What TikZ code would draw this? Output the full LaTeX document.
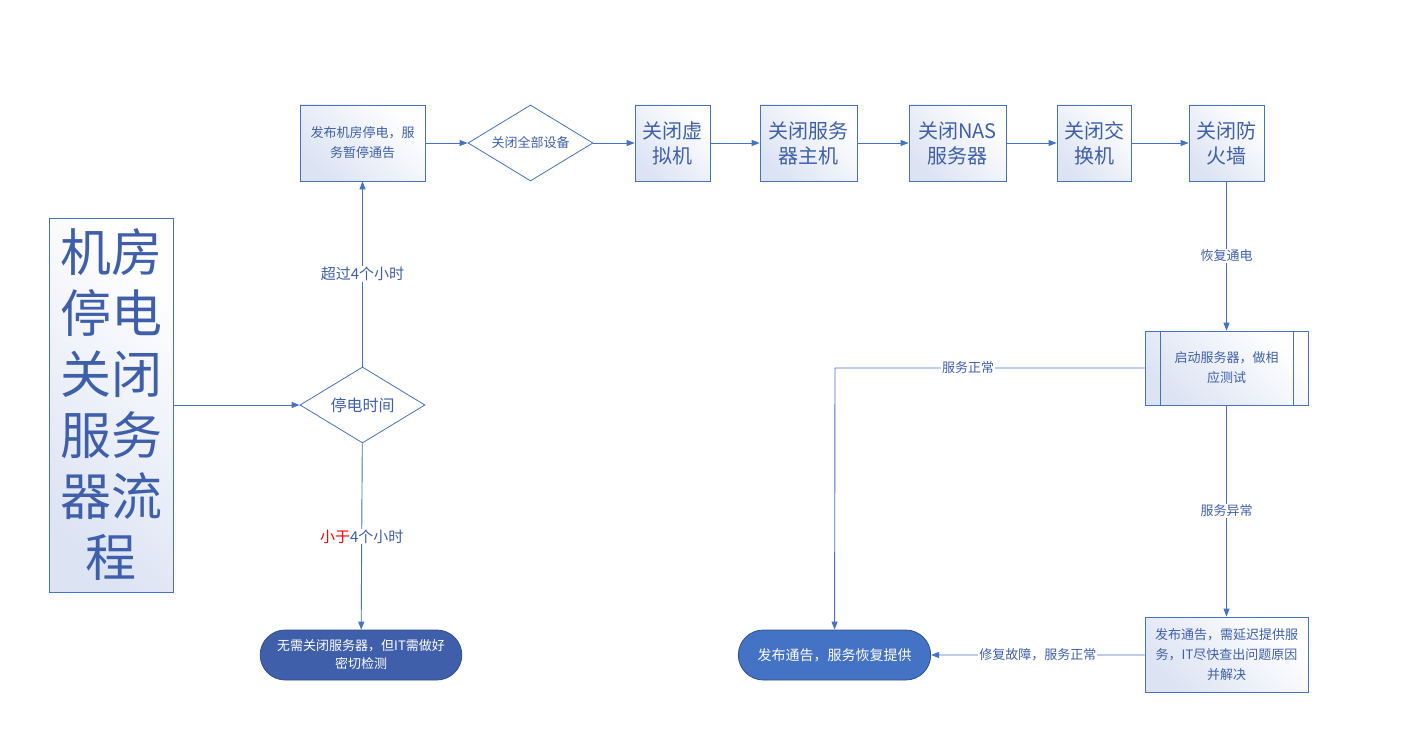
\documentclass[tikz,border=0pt]{standalone}
\usepackage{fontspec}
\setmainfont{Noto Sans CJK SC}
\usetikzlibrary{shapes.geometric,shapes.misc,arrows.meta}
\definecolor{ln}{HTML}{4472C4}
\definecolor{tx}{HTML}{3F5FAA}
\definecolor{lb}{HTML}{DCE3F3}
\begin{document}
\begin{tikzpicture}[x=1pt,y=-1pt,
  every node/.style={text=tx},
  box/.style={draw=ln,line width=0.8pt,top color=white,bottom color=lb,shading angle=-45,inner sep=2pt,align=center},
  dia/.style={diamond,draw=ln,line width=0.8pt,fill=white,aspect=1.65,inner sep=1pt,align=center},
  term/.style={rounded rectangle,draw=ln!70!black,line width=0.8pt,text=white,align=center,font=\fontsize{13}{18}\selectfont},
  arr/.style={draw=ln,line width=0.9pt,-{Triangle[length=8pt,width=6pt]}},
  lab/.style={fill=white,inner sep=1pt,font=\fontsize{13}{15}\selectfont}]
\useasboundingbox (0,0) rectangle (1405,751);
\node[box,minimum width=124pt,minimum height=374pt,text width=115pt,font=\fontsize{51}{61}\selectfont] (title) at (111,405) {机房\\停电\\关闭\\服务\\器流\\程};
\node[box,minimum width=125pt,minimum height=76pt,text width=118pt,font=\fontsize{13}{20}\selectfont] (b1) at (362.5,143) {发布机房停电，服\\务暂停通告};
\node[dia,minimum width=125pt,minimum height=76pt,font=\fontsize{13}{15}\selectfont] (d1) at (530.5,143) {关闭全部设备};
\node[box,minimum width=75pt,minimum height=76pt,text width=70pt,font=\fontsize{20}{25}\selectfont] (v) at (672.5,143) {关闭虚\\拟机};
\node[box,minimum width=97pt,minimum height=76pt,text width=92pt,font=\fontsize{20}{25}\selectfont] (s) at (808.5,143) {关闭服务\\器主机};
\node[box,minimum width=97pt,minimum height=76pt,text width=92pt,font=\fontsize{20}{25}\selectfont] (n) at (957.5,143) {关闭NAS\\服务器};
\node[box,minimum width=74pt,minimum height=76pt,text width=70pt,font=\fontsize{20}{25}\selectfont] (w) at (1094,143) {关闭交\\换机};
\node[box,minimum width=75pt,minimum height=76pt,text width=70pt,font=\fontsize{20}{25}\selectfont] (f) at (1226.5,143) {关闭防\\火墙};
\node[dia,minimum width=125pt,minimum height=76pt,font=\fontsize{16}{18}\selectfont] (d2) at (362.5,405) {停电时间};
\node[term,fill=tx,minimum width=200pt,minimum height=50pt,text width=185pt] (t1) at (361,655) {无需关闭服务器，但IT需做好\\密切检测};
\node[box,minimum width=163pt,minimum height=74pt,text width=120pt,font=\fontsize{13}{20}\selectfont] (p) at (1226.5,368) {启动服务器，做相\\应测试};
\draw[ln,line width=0.8pt] (1160,331)--(1160,405) (1293,331)--(1293,405);
\node[box,minimum width=163pt,minimum height=75pt,text width=158pt,font=\fontsize{13}{20}\selectfont] (b2) at (1226.5,654.5) {发布通告，需延迟提供服\\务，IT尽快查出问题原因\\并解决};
\node[term,fill=ln,minimum width=199pt,minimum height=50pt,font=\fontsize{14}{17}\selectfont] (t2) at (834.5,655) {发布通告，服务恢复提供};
\coordinate (c1) at (835,368);
\draw[arr] (title) -- (d2);
\draw[arr] (d2) -- node[lab,font=\fontsize{15}{17}\selectfont]{超过4个小时} (b1);
\draw[arr] (d2) -- node[lab,font=\fontsize{15}{17}\selectfont]{\textcolor{red}{小于}4个小时} (t1);
\draw[arr] (b1) -- (d1);
\draw[arr] (d1) -- (v);
\draw[arr] (v) -- (s);
\draw[arr] (s) -- (n);
\draw[arr] (n) -- (w);
\draw[arr] (w) -- (f);
\draw[arr] (f) -- node[lab]{恢复通电} (p);
\draw[arr] (p.west) -- node[lab,pos=0.57]{服务正常} (c1) -- (t2);
\draw[arr] (p) -- node[lab]{服务异常} (b2);
\draw[arr] (b2.west|-t2) -- node[lab]{修复故障，服务正常} (t2);
\end{tikzpicture}
\end{document}
